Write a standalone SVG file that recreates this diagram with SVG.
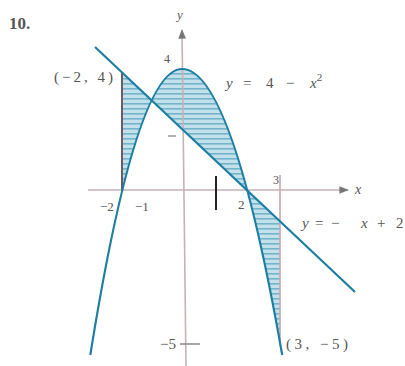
<svg xmlns="http://www.w3.org/2000/svg" width="405" height="366" viewBox="0 0 405 366">
<defs>
<pattern id="hatch" width="6" height="5" patternUnits="userSpaceOnUse">
<rect width="6" height="5" fill="#c2e1eb"/>
<rect y="3" width="6" height="1.6" fill="#74b3ca"/>
</pattern>
<marker id="arr" viewBox="0 0 10 10" refX="9" refY="5" markerWidth="6" markerHeight="6" orient="auto-start-reverse">
<path d="M0,1 L10,5 L0,9 z" fill="#777"/>
</marker>
<style>
.t{font-family:"Liberation Serif",serif;font-size:14px;fill:#555}
.i{font-style:italic}
.ax{stroke:#c4b2b5;stroke-width:1.6;fill:none}
.cv{stroke:#1d7ea2;stroke-width:2.2;fill:none}
</style>
</defs>
<text class="t" x="9" y="29" style="font-weight:bold;font-size:17px">10.</text>
<g id="region">
<path d="M122,72.4 L280,221.3 L280,342.7 Q231,69 182,69 Q152,69 122,191.4 Z" fill="url(#hatch)" fill-rule="evenodd"/>
</g>
<g id="axes">
<line class="ax" x1="88" y1="190" x2="348" y2="190" marker-end="url(#arr)"/>
<line class="ax" x1="186" y1="366" x2="182" y2="30" marker-end="url(#arr)"/>
<text class="t i" x="355" y="194">x</text>
<text class="t i" x="177" y="19" style="font-size:13px">y</text>
<text class="t" x="164" y="63" style="font-size:12px">4</text>
<line x1="168" y1="136" x2="176" y2="136" stroke="#999" stroke-width="1.5"/>
<line x1="216" y1="176" x2="216" y2="210" stroke="#222" stroke-width="2"/>
<text class="t" x="273" y="184" style="font-size:12px">3</text>
<text class="t" x="100" y="211" style="font-size:13px">−2</text>
<text class="t" x="135" y="211" style="font-size:13px">−1</text>
<text class="t" x="238" y="209" style="font-size:13px">2</text>
<line x1="180" y1="344" x2="200" y2="344" stroke="#888" stroke-width="1.5"/>
<text class="t" x="160" y="349" style="font-size:15px">−5</text>
</g>
<g id="connectors">
<line x1="122" y1="72.4" x2="122" y2="192" stroke="#6d5d62" stroke-width="2"/>
<line x1="280" y1="175" x2="280" y2="346" stroke="#c7a9ae" stroke-width="1.6"/>
</g>
<g id="parabola">
<path class="cv" d="M90.3,355 Q136.2,69 182,69 Q232.1,69 282.2,355"/>
<text class="t" y="88" style="font-size:15px"><tspan class="i" x="226">y</tspan><tspan x="243">=</tspan><tspan x="266">4</tspan><tspan x="286">−</tspan><tspan class="i" x="310">x</tspan><tspan dy="-7" style="font-size:11px">2</tspan></text>
</g>
<g id="line">
<path class="cv" d="M95,47 L355,292"/>
<text class="t" y="228" style="font-size:15px"><tspan class="i" x="302">y</tspan><tspan x="315">=</tspan><tspan x="331">−</tspan><tspan class="i" x="361">x</tspan><tspan x="377">+</tspan><tspan x="396">2</tspan></text>
</g>
<g id="pointA">
<text class="t" x="54" y="82" style="font-size:15px;letter-spacing:3px">(−2, 4)</text>
</g>
<g id="pointB">
<text class="t" x="286" y="349" style="font-size:15px;letter-spacing:3.5px">(3, −5)</text>
</g>
</svg>
